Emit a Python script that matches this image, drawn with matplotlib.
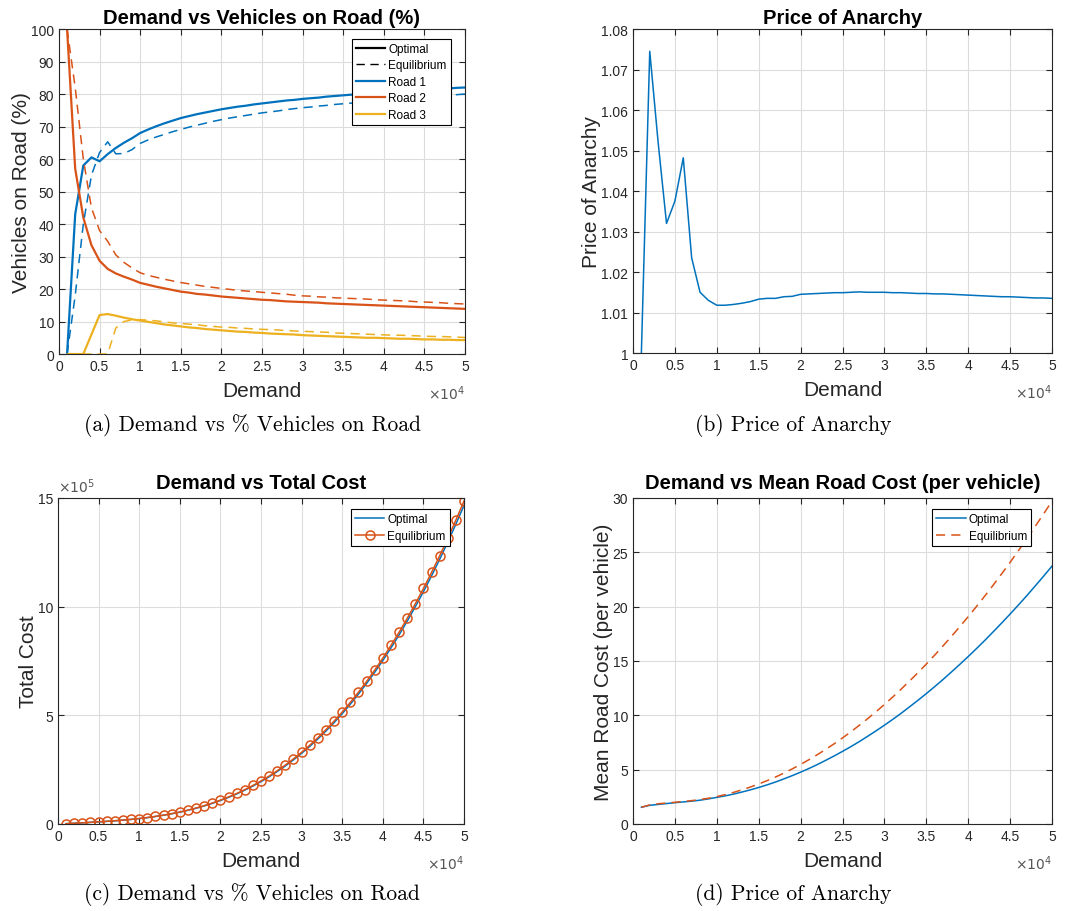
import numpy as np
import matplotlib
matplotlib.use("Agg")
import matplotlib.pyplot as plt
from matplotlib.lines import Line2D
from matplotlib.ticker import FuncFormatter

plt.rcParams['font.family'] = ['Liberation Sans', 'DejaVu Sans']

# demand levels (vehicles), 1000 .. 50000
demand = np.arange(1, 51) * 1000

# % of vehicles on each road - optimal assignment
road1_opt = [0, 43, 58, 60.5, 59.3, 61.5, 63.4, 65.0, 66.4, 68.0,
             69.1, 70.1, 71.0, 71.8, 72.6, 73.2, 73.8, 74.3, 74.8, 75.3,
             75.7, 76.1, 76.4, 76.8, 77.1, 77.4, 77.7, 78.0, 78.2, 78.5,
             78.7, 78.9, 79.2, 79.4, 79.6, 79.8, 80.0, 80.2, 80.3, 80.5,
             80.7, 80.8, 81.0, 81.1, 81.3, 81.4, 81.6, 81.7, 81.9, 82.0]
road2_opt = [100, 57, 42, 33.5, 28.7, 26.2, 24.8, 23.8, 22.9, 21.9,
             21.3, 20.7, 20.2, 19.7, 19.2, 18.9, 18.5, 18.3, 18.0, 17.7,
             17.5, 17.3, 17.1, 16.9, 16.7, 16.6, 16.4, 16.2, 16.1, 16.0,
             15.9, 15.8, 15.6, 15.5, 15.4, 15.3, 15.2, 15.1, 15.0, 14.9,
             14.8, 14.7, 14.6, 14.5, 14.4, 14.3, 14.2, 14.1, 14.0, 13.9]
road3_opt = [0, 0, 0, 6.0, 12.0, 12.3, 11.8, 11.2, 10.7, 10.3,
             9.9, 9.5, 9.1, 8.8, 8.5, 8.2, 8.0, 7.7, 7.5, 7.3,
             7.1, 6.9, 6.8, 6.6, 6.5, 6.3, 6.2, 6.1, 6.0, 5.8,
             5.7, 5.6, 5.5, 5.4, 5.3, 5.2, 5.1, 5.0, 5.0, 4.9,
             4.8, 4.7, 4.7, 4.6, 4.5, 4.5, 4.4, 4.4, 4.3, 4.3]

# % of vehicles on each road - user equilibrium
road1_eq = [0, 18, 40, 55, 62, 65.3, 61.6, 61.7, 62.9, 64.8,
            65.9, 66.8, 67.6, 68.4, 69.1, 69.8, 70.4, 71.0, 71.6, 72.1,
            72.6, 73.0, 73.4, 73.8, 74.2, 74.5, 74.8, 75.2, 75.5, 75.8,
            76.0, 76.3, 76.5, 76.8, 77.0, 77.2, 77.4, 77.6, 77.8, 78.0,
            78.2, 78.4, 78.6, 78.8, 79.0, 79.2, 79.4, 79.6, 79.8, 80.0]
road2_eq = [100, 82, 60, 45, 38, 34.7, 30.5, 28.2, 26.5, 25.0,
            24.2, 23.6, 23.0, 22.5, 22.0, 21.6, 21.2, 20.8, 20.5, 20.2,
            19.9, 19.6, 19.4, 19.2, 19.0, 18.8, 18.6, 18.4, 18.1, 17.9,
            17.8, 17.6, 17.5, 17.3, 17.2, 17.1, 17.0, 16.9, 16.7, 16.6,
            16.5, 16.4, 16.3, 16.1, 16.0, 15.9, 15.8, 15.6, 15.5, 15.4]
road3_eq = [0, 0, 0, 0, 0, 0, 8.0, 10.0, 10.5, 10.6,
            10.4, 10.2, 9.9, 9.6, 9.4, 9.2, 9.0, 8.7, 8.5, 8.3,
            8.2, 8.0, 7.9, 7.7, 7.6, 7.5, 7.4, 7.2, 7.1, 7.0,
            6.9, 6.8, 6.7, 6.5, 6.4, 6.3, 6.2, 6.1, 6.0, 5.9,
            5.8, 5.8, 5.7, 5.6, 5.5, 5.4, 5.4, 5.3, 5.2, 5.1]

# price of anarchy
poa = [1.0, 1.0745, 1.052, 1.032, 1.0375, 1.0482, 1.0235, 1.015, 1.013, 1.0118,
       1.0118, 1.012, 1.0123, 1.0127, 1.0133, 1.0135, 1.0135, 1.0139, 1.014, 1.0145,
       1.0146, 1.0147, 1.0148, 1.0149, 1.0149, 1.015, 1.0151, 1.015, 1.015, 1.015,
       1.0149, 1.0149, 1.0148, 1.0147, 1.0147, 1.0146, 1.0146, 1.0145, 1.0144, 1.0143,
       1.0142, 1.0141, 1.014, 1.0139, 1.0139, 1.0138, 1.0137, 1.0136, 1.0136, 1.0135]

# mean road cost per vehicle
mean_opt = [1.54, 1.72, 1.80, 1.88, 1.96, 2.03, 2.10, 2.19, 2.31, 2.45,
            2.59, 2.75, 2.94, 3.14, 3.36, 3.60, 3.86, 4.15, 4.45, 4.77,
            5.11, 5.47, 5.86, 6.26, 6.68, 7.12, 7.58, 8.07, 8.57, 9.09,
            9.63, 10.19, 10.78, 11.38, 12.00, 12.64, 13.30, 13.99, 14.69, 15.41,
            16.15, 16.91, 17.70, 18.50, 19.32, 20.16, 21.02, 21.91, 22.81, 23.73]
mean_eq = [1.54, 1.76, 1.86, 1.93, 2.00, 2.07, 2.15, 2.25, 2.37, 2.52,
           2.70, 2.91, 3.14, 3.40, 3.68, 3.99, 4.32, 4.68, 5.07, 5.48,
           5.92, 6.38, 6.87, 7.38, 7.92, 8.48, 9.08, 9.69, 10.33, 11.00,
           11.69, 12.41, 13.16, 13.92, 14.72, 15.54, 16.39, 17.26, 18.16, 19.08,
           20.03, 21.00, 22.00, 23.03, 24.08, 25.16, 26.26, 27.39, 28.54, 29.72]

# total cost: equilibrium = demand * mean eq cost, optimal = equilibrium / PoA
total_eq = demand * np.array(mean_eq)
total_opt = total_eq / np.array(poa)

BLUE = '#0072BD'
ORANGE = '#D95319'
YELLOW = '#EDB120'
DARK = '#262626'

fig = plt.figure(figsize=(10.66, 9.12), dpi=100)

ax_a = fig.add_axes([0.0553, 0.6107, 0.3809, 0.3564])
ax_b = fig.add_axes([0.5938, 0.6118, 0.3931, 0.3553])
ax_c = fig.add_axes([0.0544, 0.0954, 0.3809, 0.3575])
ax_d = fig.add_axes([0.5938, 0.0954, 0.3931, 0.3575])


def style(ax):
    ax.set_xlim(0, 50000)
    ax.set_xticks(np.arange(0, 50001, 5000))
    ax.xaxis.set_major_formatter(FuncFormatter(lambda v, p: '%g' % (v / 1e4)))
    ax.grid(True, color='#dcdcdc', linewidth=0.8)
    ax.set_axisbelow(True)
    ax.tick_params(direction='in', top=True, right=True, length=4,
                   labelsize=10, colors=DARK, width=0.8)
    for s in ax.spines.values():
        s.set_color(DARK)
        s.set_linewidth(0.8)
    ax.set_xlabel('Demand', fontsize=15, color=DARK, labelpad=6)
    ax.text(1.0, -0.118, r'$\times10^{4}$', transform=ax.transAxes,
            ha='right', va='center', fontsize=10, color='#555555')


def add_legend(ax, handles, labels, anchor):
    leg = ax.legend(handles, labels, loc='upper right', bbox_to_anchor=anchor,
                    fontsize=8.5, fancybox=False, framealpha=1, edgecolor='black',
                    handlelength=2.5, handletextpad=0.25, labelspacing=0.38,
                    borderpad=0.35, borderaxespad=0)
    leg.get_frame().set_linewidth(0.8)


TITLE = dict(fontsize=14.5, fontweight='bold')

# (a) vehicles on road
lw = 1.6
ax_a.plot(demand, road1_opt, color=BLUE, lw=lw)
ax_a.plot(demand, road2_opt, color=ORANGE, lw=lw)
ax_a.plot(demand, road3_opt, color=YELLOW, lw=lw)
ax_a.plot(demand, road1_eq, color=BLUE, lw=1.1, ls=(0, (6, 4)))
ax_a.plot(demand, road2_eq, color=ORANGE, lw=1.1, ls=(0, (6, 4)))
ax_a.plot(demand, road3_eq, color=YELLOW, lw=1.1, ls=(0, (6, 4)))
style(ax_a)
ax_a.set_ylim(0, 100)
ax_a.set_yticks(np.arange(0, 101, 10))
ax_a.set_ylabel('Vehicles on Road (%)', fontsize=15, color=DARK, labelpad=0)
ax_a.set_title('Demand vs Vehicles on Road (%)', pad=4, **TITLE)
handles = [Line2D([], [], color='black', lw=1.6),
           Line2D([], [], color='black', lw=1.0, ls=(0, (6, 4))),
           Line2D([], [], color=BLUE, lw=1.6),
           Line2D([], [], color=ORANGE, lw=1.6),
           Line2D([], [], color=YELLOW, lw=1.6)]
add_legend(ax_a, handles, ['Optimal', 'Equilibrium', 'Road 1', 'Road 2', 'Road 3'],
           (0.965, 0.97))

# (b) price of anarchy
ax_b.plot(demand, poa, color=BLUE, lw=1.1)
style(ax_b)
ax_b.set_ylim(1, 1.08)
ax_b.set_yticks(np.arange(1, 1.0801, 0.01))
ax_b.yaxis.set_major_formatter(FuncFormatter(lambda v, p: '%g' % round(v, 2)))
ax_b.set_ylabel('Price of Anarchy', fontsize=15, color=DARK, labelpad=0)
ax_b.set_title('Price of Anarchy', pad=4, **TITLE)

# (c) total cost
l1, = ax_c.plot(demand, total_opt, color=BLUE, lw=1.1)
l2, = ax_c.plot(demand, total_eq, color=ORANGE, lw=1.1, marker='o', ms=6.5,
                mfc='none', mew=1.1)
style(ax_c)
ax_c.set_ylim(0, 1.5e6)
ax_c.set_yticks([0, 5e5, 10e5, 15e5])
ax_c.yaxis.set_major_formatter(FuncFormatter(lambda v, p: '%g' % (v / 1e5)))
ax_c.text(0.0, 1.01, r'$\times10^{5}$', transform=ax_c.transAxes,
          ha='left', va='bottom', fontsize=10, color='#555555')
ax_c.set_ylabel('Total Cost', fontsize=15, color=DARK, labelpad=0)
ax_c.set_title('Demand vs Total Cost', pad=7, **TITLE)
add_legend(ax_c, [l1, l2], ['Optimal', 'Equilibrium'], (0.965, 0.965))

# (d) mean road cost
l1, = ax_d.plot(demand, mean_opt, color=BLUE, lw=1.1)
l2, = ax_d.plot(demand, mean_eq, color=ORANGE, lw=1.1, ls=(0, (6, 4)))
style(ax_d)
ax_d.set_ylim(0, 30)
ax_d.set_yticks(np.arange(0, 31, 5))
ax_d.set_ylabel('Mean Road Cost (per vehicle)', fontsize=15, color=DARK, labelpad=0)
ax_d.set_title('Demand vs Mean Road Cost (per vehicle)', pad=7, **TITLE)
add_legend(ax_d, [l1, l2], ['Optimal', 'Equilibrium'], (0.95, 0.965))

# captions
cap = dict(fontsize=15.5, family=['cmr10', 'DejaVu Serif'], ha='center', va='center')
fig.text(252 / 1066, 1 - 426 / 912, '(a) Demand vs % Vehicles on Road', **cap)
fig.text(793 / 1066, 1 - 426 / 912, '(b) Price of Anarchy', **cap)
fig.text(252 / 1066, 1 - 895 / 912, '(c) Demand vs % Vehicles on Road', **cap)
fig.text(793 / 1066, 1 - 895 / 912, '(d) Price of Anarchy', **cap)

fig.savefig('out.png', dpi=100)
